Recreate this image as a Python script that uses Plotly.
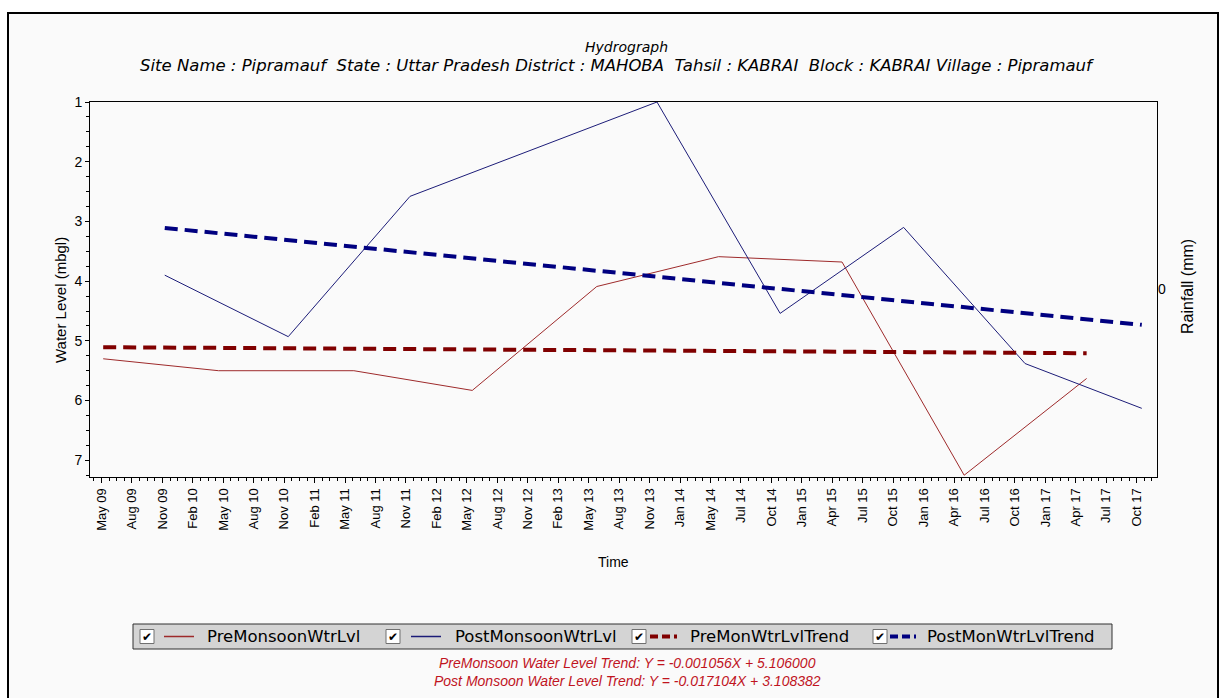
import plotly.graph_objects as go
from datetime import date

# ---- data -------------------------------------------------------------
pre_dates = ["2009-06-01", "2010-05-08", "2011-06-12", "2012-05-27", "2013-05-30",
             "2014-05-25", "2015-05-25", "2016-05-20", "2017-05-17"]
pre_levels = [5.30, 5.50, 5.50, 5.83, 4.09, 3.59, 3.68, 7.25, 5.63]

post_dates = ["2009-11-30", "2010-11-30", "2011-11-25", "2013-11-24", "2014-11-23",
              "2015-11-23", "2016-11-16", "2017-10-27"]
post_levels = [3.90, 4.93, 2.58, 1.00, 4.54, 3.10, 5.38, 6.13]

# fitted trends: slope per month, intercept (mbgl)
pre_slope, pre_intercept = -0.001056, 5.106000
post_slope, post_intercept = -0.017104, 3.108382

y_ticks = [1, 2, 3, 4, 5, 6, 7]
rain_ticks = [0]
x_tick_start = "2009-05-27"
x_tick_days = 90

site_line = ("Site Name : Pipramauf  State : Uttar Pradesh District : MAHOBA  "
             "Tahsil : KABRAI  Block : KABRAI Village : Pipramauf")

legend_names = ["PreMonsoonWtrLvl", "PostMonsoonWtrLvl", "PreMonWtrLvlTrend", "PostMonWtrLvlTrend"]

# ---- styling ----------------------------------------------------------
FONT = "Liberation Sans, Arial, sans-serif"
WIDE = "DejaVu Sans, Verdana, sans-serif"
PRE_COLOR = "#9E2A2B"
POST_COLOR = "#1C1C78"
PRE_TREND_COLOR = "#800000"
POST_TREND_COLOR = "#000080"
EQ_COLOR = "#C0141E"
BG = "#FAFAFA"

W, H = 1225, 698
ML, MR, MT, MB = 90, 68, 102, 221
PW, PH = W - ML - MR, H - MT - MB


def px(x):
    return (x - ML) / PW


def py(y):
    return (H - MB - y) / PH


def months(d0, d1):
    a, b = date.fromisoformat(d0), date.fromisoformat(d1)
    return (b - a).days / 30.4375


def trend(dates, slope, intercept):
    # slope is fitted on water level, depth below ground moves the other way
    xs = [dates[0], dates[-1]]
    ys = [intercept - slope * months(dates[0], d) for d in xs]
    return xs, ys


fig = go.Figure()

fig.add_trace(go.Scatter(x=pre_dates, y=pre_levels, mode="lines",
                         line=dict(color=PRE_COLOR, width=1), name=legend_names[0]))
fig.add_trace(go.Scatter(x=post_dates, y=post_levels, mode="lines",
                         line=dict(color=POST_COLOR, width=1), name=legend_names[1]))

tx, ty = trend(pre_dates, pre_slope, pre_intercept)
fig.add_trace(go.Scatter(x=tx, y=ty, mode="lines", name=legend_names[2],
                         line=dict(color=PRE_TREND_COLOR, width=4, dash="13px,7px")))
tx, ty = trend(post_dates, post_slope, post_intercept)
fig.add_trace(go.Scatter(x=tx, y=ty, mode="lines", name=legend_names[3],
                         line=dict(color=POST_TREND_COLOR, width=4, dash="13px,7px")))

# rainfall axis (no rainfall records for this site)
fig.add_trace(go.Scatter(x=[], y=[], yaxis="y2", mode="lines", name="Rainfall",
                         hoverinfo="skip"))

day_ms = 86400000
fig.update_layout(
    width=W, height=H,
    margin=dict(l=ML, r=MR, t=MT, b=MB),
    paper_bgcolor="white",
    plot_bgcolor=BG,
    showlegend=False,
    font=dict(family=FONT, size=13, color="black"),
    xaxis=dict(
        type="date",
        range=["2009-04-23", "2017-12-11"],
        tick0=x_tick_start, dtick=x_tick_days * day_ms,
        tickformat="%b %y", tickangle=-90,
        ticks="outside", ticklen=5, tickcolor="black",
        tickfont=dict(size=13),
        minor=dict(tick0=x_tick_start, dtick=x_tick_days / 4 * day_ms,
                   ticks="outside", ticklen=3, tickcolor="black"),
        showline=True, linecolor="black", linewidth=1, mirror=True,
        showgrid=False, zeroline=False,
    ),
    yaxis=dict(
        range=[7.28, 1.0],
        tickvals=y_ticks,
        ticks="outside", ticklen=4, tickcolor="black",
        tickfont=dict(size=14),
        minor=dict(dtick=0.25, ticks="outside", ticklen=3, tickcolor="black"),
        showline=True, linecolor="black", linewidth=1, mirror=True,
        showgrid=False, zeroline=False,
    ),
    yaxis2=dict(
        overlaying="y", side="right", range=[-1, 1],
        tickvals=rain_ticks, ticks="", showline=False, showgrid=False, zeroline=False,
        tickfont=dict(size=14),
    ),
)

shapes = []
annotations = []


def label(text, x, y, size, color="black", family=FONT, angle=0, xanchor="center"):
    annotations.append(dict(text=text, x=px(x), y=py(y), xref="paper", yref="paper",
                            xanchor=xanchor, yanchor="middle", showarrow=False,
                            textangle=angle, font=dict(size=size, color=color, family=family)))


# outer frame and background
shapes.append(dict(type="rect", xref="paper", yref="paper", layer="below",
                   x0=px(8), x1=px(1218), y0=py(760), y1=py(13),
                   line=dict(color="black", width=2), fillcolor=BG))

# titles
label("<i>Hydrograph</i>", 626, 47, 14, family=WIDE)
label("<i>" + site_line + "</i>", 617, 66, 16.5, family=WIDE)

# axis titles
label("Water Level (mbgl)", 60, 300, 15, angle=-90)
label("Time", 613, 562, 14)
label("Rainfall (mm)", 1187, 287, 16, angle=-90)

# legend panel
shapes.append(dict(type="rect", xref="paper", yref="paper",
                   x0=px(133), x1=px(1112), y0=py(649), y1=py(624),
                   line=dict(color="#303030", width=1), fillcolor="#D4D4D4"))
legend_y = 636.5
box_x = [140, 386, 632, 873]
line_x = [(164, 194), (411, 441), (650, 677), (890, 916)]
text_x = [205, 453, 688, 925]
styles = [(PRE_COLOR, 1.5, "solid"), (POST_COLOR, 1.5, "solid"),
          (PRE_TREND_COLOR, 4, "8px,4px"), (POST_TREND_COLOR, 4, "8px,4px")]
for i, name in enumerate(legend_names):
    bx = box_x[i]
    shapes.append(dict(type="rect", xref="paper", yref="paper",
                       x0=px(bx), x1=px(bx + 14), y0=py(legend_y + 7), y1=py(legend_y - 7),
                       line=dict(color="#707070", width=1), fillcolor="white"))
    label("✔", bx + 7, legend_y, 12, family="DejaVu Sans")
    c, w, d = styles[i]
    shapes.append(dict(type="line", xref="paper", yref="paper",
                       x0=px(line_x[i][0]), x1=px(line_x[i][1]), y0=py(legend_y), y1=py(legend_y),
                       line=dict(color=c, width=w, dash=d)))
    label(name, text_x[i], legend_y, 16.5, family=WIDE, xanchor="left")

# trend equations
eq_pre = f"PreMonsoon Water Level Trend: Y = {pre_slope:.6f}X + {pre_intercept:.6f}"
eq_post = f"Post Monsoon Water Level Trend: Y = {post_slope:.6f}X + {post_intercept:.6f}"
label("<i>" + eq_pre + "</i>", 627, 663, 14, color=EQ_COLOR)
label("<i>" + eq_post + "</i>", 627, 681, 14, color=EQ_COLOR)

fig.update_layout(shapes=shapes, annotations=annotations)

fig.write_html("out.html")
